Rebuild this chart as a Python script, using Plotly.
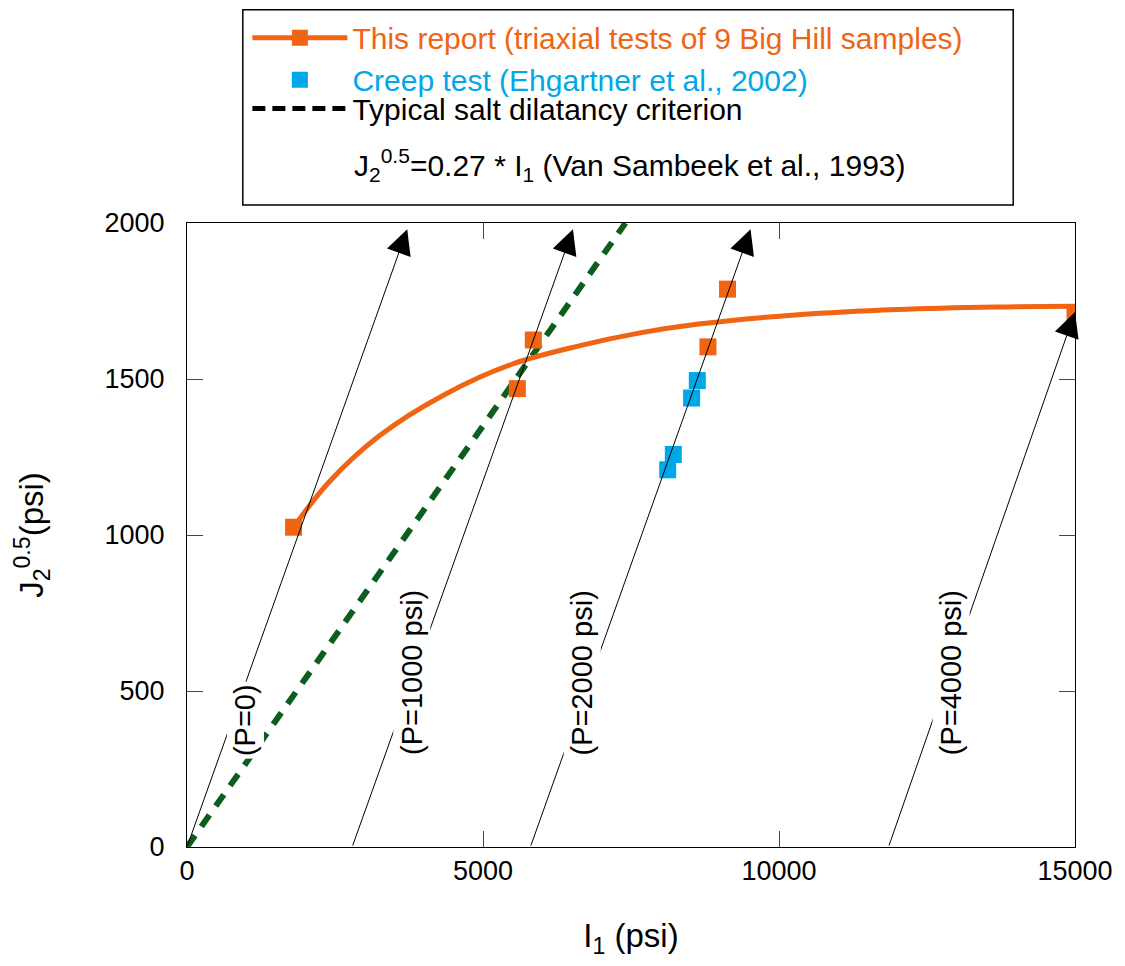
import plotly.graph_objects as go

# ---------------- data ----------------
triax_I1 = [1800, 5580, 5850, 8800, 9130, 15000]
triax_J = [1025, 1469, 1625, 1603, 1788, 1710]

fit_I1 = [1800, 2400, 3250, 4370, 5500, 6620, 7630, 8640, 10320, 12000, 13690, 15000]
fit_J = [1025, 1170, 1318, 1452, 1548, 1606, 1647, 1676, 1706, 1723, 1731, 1733]

creep_I1 = [8120, 8215, 8524, 8620]
creep_J = [1209, 1258, 1439, 1495]

dil_I1 = [0, 7407]
dil_J = [0, 2000]

path_labels = ["(P=0)", "(P=1000 psi)", "(P=2000 psi)", "(P=4000 psi)"]
path_start_I1 = [0, 2790, 5800, 11850]
path_start_J = [0, 0, 0, 0]
path_end_I1 = [3720, 6520, 9520, 15000]
path_end_J = [1980, 1980, 1980, 1715]

x_ticks = [0, 5000, 10000, 15000]
x_ticktext = ["0", "5000", "10000", "15000"]
y_ticks = [0, 500, 1000, 1500, 2000]
y_ticktext = ["0", "500", "1000", "1500", "2000"]

# label anchor positions (layout, not data)
label_I1 = [993, 3790, 6670, 12900]
label_J = [406, 559, 559, 559]

ORANGE = "#F06412"
BLUE = "#00A8E8"
GREEN = "#0B5E1E"
FONT = "Liberation Sans, Arial, sans-serif"


def px_x(p):  # pixel -> paper x
    return (p - 187) / 891


def px_y(p):  # pixel -> paper y
    return (847 - p) / 626


fig = go.Figure()

# dilatancy criterion (green dashed)
fig.add_trace(go.Scatter(x=dil_I1, y=dil_J, mode="lines",
                         line=dict(color=GREEN, width=6, dash="14px,11px"),
                         showlegend=False, hoverinfo="skip"))
# fitted curve
fig.add_trace(go.Scatter(x=fit_I1, y=fit_J, mode="lines",
                         line=dict(color=ORANGE, width=5, shape="spline", smoothing=1),
                         showlegend=False, hoverinfo="skip"))
# triaxial data
fig.add_trace(go.Scatter(x=triax_I1, y=triax_J, mode="markers",
                         marker=dict(symbol="square", size=17, color=ORANGE),
                         showlegend=False))
# creep data
fig.add_trace(go.Scatter(x=creep_I1, y=creep_J, mode="markers",
                         marker=dict(symbol="square", size=17, color=BLUE),
                         showlegend=False))

# legend entries
fig.add_trace(go.Scatter(x=[None], y=[None], mode="lines+markers",
                         line=dict(color=ORANGE, width=5),
                         marker=dict(symbol="square", size=17, color=ORANGE),
                         name=f"<span style='color:{ORANGE}'>This report (triaxial tests of 9 Big Hill samples)</span>",
                         legend="legend"))
fig.add_trace(go.Scatter(x=[None], y=[None], mode="markers",
                         marker=dict(symbol="square", size=17, color=BLUE),
                         name=f"<span style='color:{BLUE}'>Creep test (Ehgartner et al., 2002)</span>",
                         legend="legend"))
fig.add_trace(go.Scatter(x=[None], y=[None], mode="lines",
                         line=dict(color="black", width=5, dash="13px,7px"),
                         name="Typical salt dilatancy criterion",
                         legend="legend2"))

annotations = []
# stress path arrows
for xs, ys, xe, ye in zip(path_start_I1, path_start_J, path_end_I1, path_end_J):
    annotations.append(dict(x=xe, y=ye, ax=xs, ay=ys, xref="x", yref="y",
                            axref="x", ayref="y", text="", showarrow=True,
                            arrowhead=2, arrowsize=5, arrowwidth=1,
                            arrowcolor="black", standoff=0))
# path labels (white background hides the lines beneath)
for lab, lx, ly in zip(path_labels, label_I1, label_J):
    annotations.append(dict(x=lx, y=ly, xref="x", yref="y", text=lab,
                            showarrow=False, textangle=-90,
                            font=dict(family=FONT, size=29, color="black"),
                            bgcolor="white", borderpad=2))
# criterion equation inside the legend box
annotations.append(dict(x=px_x(353), y=px_y(163), xref="paper", yref="paper",
                        xanchor="left", yanchor="middle", showarrow=False,
                        text="J<sub>2</sub><sup>0.5</sup>=0.27 * I<sub>1</sub> (Van Sambeek et al., 1993)",
                        font=dict(family=FONT, size=30, color="black")))

legend_common = dict(xanchor="left", yanchor="top", bgcolor="rgba(0,0,0,0)",
                     borderwidth=0, font=dict(family=FONT, size=30, color="black"),
                     itemwidth=95, tracegroupgap=0)

fig.update_layout(
    width=1125, height=966,
    margin=dict(l=187, r=47, t=221, b=119),
    paper_bgcolor="white", plot_bgcolor="white",
    font=dict(family=FONT, size=27, color="black"),
    annotations=annotations,
    legend=dict(x=0.068, y=px_y(9), **legend_common),
    legend2=dict(x=0.068, y=px_y(80), **legend_common),
    shapes=[dict(type="rect", xref="paper", yref="paper",
                 x0=px_x(243), x1=px_x(1016), y0=px_y(203), y1=px_y(7),
                 line=dict(color="black", width=1.5))],
)

fig.update_xaxes(range=[0, 15000], tickvals=x_ticks, ticktext=x_ticktext,
                 ticks="inside", ticklen=16,
                 tickcolor="#444", tickwidth=1, showline=True, linecolor="black",
                 linewidth=1, mirror="ticks", showgrid=False, zeroline=False,
                 tickfont=dict(family=FONT, size=27),
                 title=dict(text="I<sub>1</sub> (psi)", font=dict(family=FONT, size=33),
                            standoff=38))
fig.update_yaxes(range=[0, 2000], tickvals=y_ticks, ticktext=y_ticktext,
                 ticks="inside", ticklen=16, ticklabelstandoff=16,
                 tickcolor="#444", tickwidth=1, showline=True, linecolor="black",
                 linewidth=1, mirror="ticks", showgrid=False, zeroline=False,
                 tickfont=dict(family=FONT, size=27),
                 title=dict(text="J<sub>2</sub><sup>0.5</sup>(psi)",
                            font=dict(family=FONT, size=33), standoff=50))

fig.write_html("out.html")
